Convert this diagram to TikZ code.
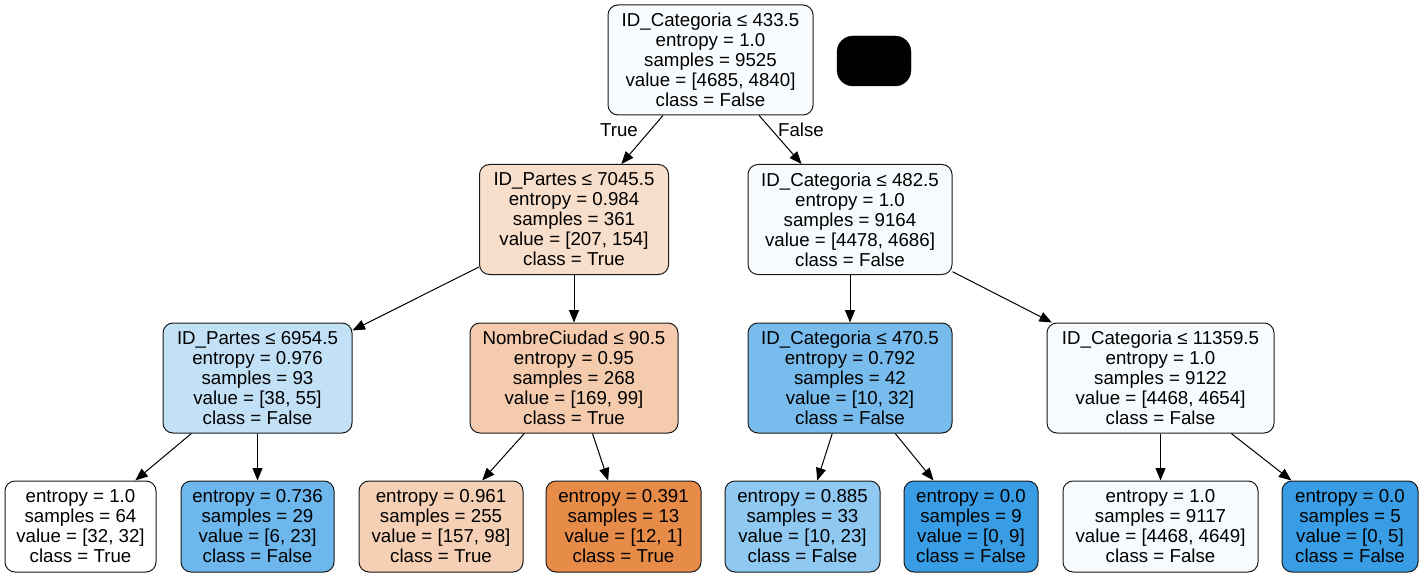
\documentclass[tikz,border=0pt]{standalone}
\usepackage{fontspec}
\setmainfont{Liberation Sans}
\usetikzlibrary{arrows.meta}
\definecolor{clsT}{HTML}{E58139}
\definecolor{clsF}{HTML}{399DE5}
\definecolor{edgecol}{HTML}{1A1A1A}
\tikzset{
  tree/.style={draw=edgecol, line width=1pt, rounded corners=10pt, inner sep=0pt,
    align=center, font=\fontsize{18.7}{20}\selectfont},
  split/.style={tree, minimum height=110pt},
  leafbox/.style={tree, minimum height=91pt},
  branch/.style={draw=black, line width=1pt, -{Triangle[length=12.5pt,width=10pt]}},
  blabel/.style={inner sep=0pt, font=\fontsize{18.7}{20}\selectfont}
}
\begin{document}
\begin{tikzpicture}[x=1pt,y=-1pt]
\useasboundingbox[fill=white] (0,0) rectangle (1423,577);

% internal (split) nodes
\node[split, fill=clsF!3.2!white, minimum width=205pt] (root) at (710.5,60)
  {ID\_Categoria ≤ 433.5\\entropy = 1.0\\samples = 9525\\value = [4685, 4840]\\class = False};
\node[split, fill=clsT!25.6!white, minimum width=189pt] (n1) at (574,219.5)
  {ID\_Partes ≤ 7045.5\\entropy = 0.984\\samples = 361\\value = [207, 154]\\class = True};
\node[split, fill=clsF!4.4!white, minimum width=204pt] (n2) at (850,219.5)
  {ID\_Categoria ≤ 482.5\\entropy = 1.0\\samples = 9164\\value = [4478, 4686]\\class = False};
\node[split, fill=clsF!30.9!white, minimum width=189pt] (a) at (257.5,378)
  {ID\_Partes ≤ 6954.5\\entropy = 0.976\\samples = 93\\value = [38, 55]\\class = False};
\node[split, fill=clsT!41.4!white, minimum width=208pt] (b) at (574,378)
  {NombreCiudad ≤ 90.5\\entropy = 0.95\\samples = 268\\value = [169, 99]\\class = True};
\node[split, fill=clsF!68.75!white, minimum width=204pt] (c) at (850,378)
  {ID\_Categoria ≤ 470.5\\entropy = 0.792\\samples = 42\\value = [10, 32]\\class = False};
\node[split, fill=clsF!4!white, minimum width=227pt] (d) at (1160.5,378)
  {ID\_Categoria ≤ 11359.5\\entropy = 1.0\\samples = 9122\\value = [4468, 4654]\\class = False};

% leaves
\node[leafbox, fill=white, minimum width=151pt] (l1) at (80.5,526.5)
  {entropy = 1.0\\samples = 64\\value = [32, 32]\\class = True};
\node[leafbox, fill=clsF!73.9!white, minimum width=153pt] (l2) at (257.5,526.5)
  {entropy = 0.736\\samples = 29\\value = [6, 23]\\class = False};
\node[leafbox, fill=clsT!37.6!white, minimum width=164pt] (l3) at (441,526.5)
  {entropy = 0.961\\samples = 255\\value = [157, 98]\\class = True};
\node[leafbox, fill=clsT!91.7!white, minimum width=155pt] (l4) at (623.5,526.5)
  {entropy = 0.391\\samples = 13\\value = [12, 1]\\class = True};
\node[leafbox, fill=clsF!56.5!white, minimum width=155pt] (l5) at (802.5,526.5)
  {entropy = 0.885\\samples = 33\\value = [10, 23]\\class = False};
\node[leafbox, fill=clsF, minimum width=134pt] (l6) at (971,526.5)
  {entropy = 0.0\\samples = 9\\value = [0, 9]\\class = False};
\node[leafbox, fill=clsF!3.9!white, minimum width=195pt] (l7) at (1160.5,526.5)
  {entropy = 1.0\\samples = 9117\\value = [4468, 4649]\\class = False};
\node[leafbox, fill=clsF, minimum width=136pt] (l8) at (1350,526.5)
  {entropy = 0.0\\samples = 5\\value = [0, 5]\\class = False};

% solid black rounded block beside the root
\node[draw=black, fill=black, rounded corners=16pt, minimum width=74pt, minimum height=50pt,
  inner sep=0pt] (blk) at (874,61) {};

% branches
\draw[branch] (root) -- (n1);
\draw[branch] (root) -- (n2);
\draw[branch] (n1) -- (a);
\draw[branch] (n1) -- (b);
\draw[branch] (n2) -- (c);
\draw[branch] (n2) -- (d);
\draw[branch] (a) -- (l1);
\draw[branch] (a) -- (l2);
\draw[branch] (b) -- (l3);
\draw[branch] (b) -- (l4);
\draw[branch] (c) -- (l5);
\draw[branch] (c) -- (l6);
\draw[branch] (d) -- (l7);
\draw[branch] (d) -- (l8);

% branch labels
\node[blabel] (ltrue) at (619,130) {True};
\node[blabel] (lfalse) at (801,130) {False};
\end{tikzpicture}
\end{document}
